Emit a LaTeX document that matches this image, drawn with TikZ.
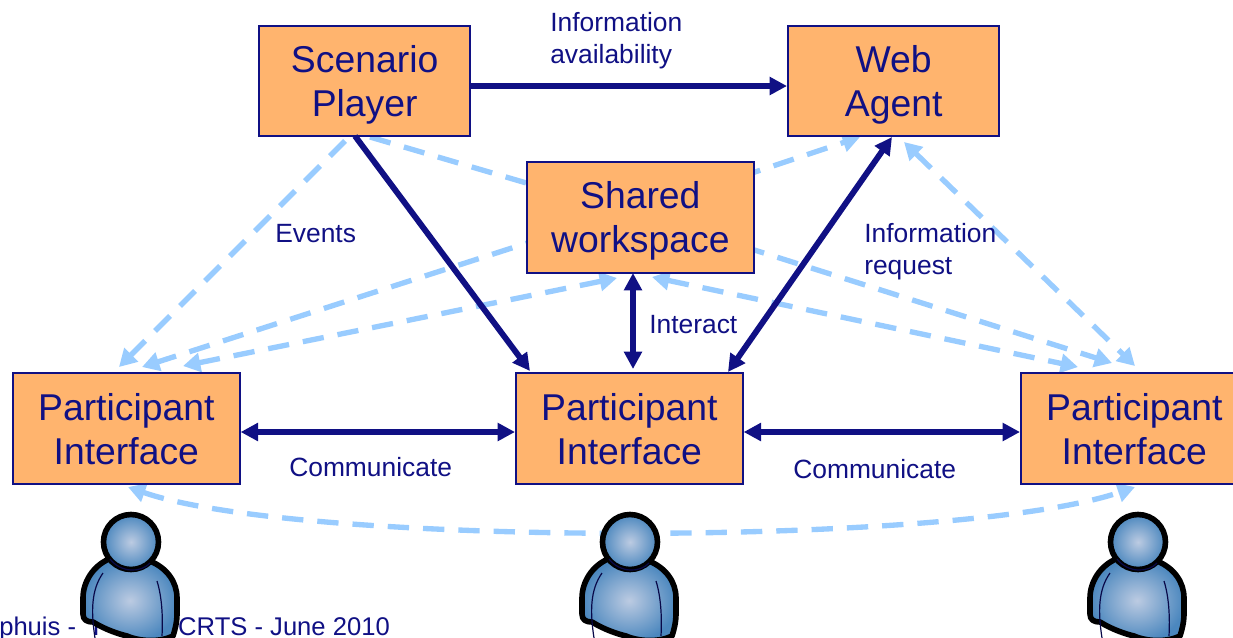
\documentclass[tikz,border=0pt]{standalone}
\usepackage{fontspec}
\setmainfont{Liberation Sans}
\usetikzlibrary{arrows.meta}
\definecolor{navy}{RGB}{16,16,132}
\definecolor{boxfill}{RGB}{255,180,110}
\definecolor{lightb}{RGB}{153,204,255}
\definecolor{skin}{RGB}{75,135,190}
\definecolor{skinc}{RGB}{188,203,226}
\tikzset{
  x=0.75pt,y=-0.75pt,
  box/.style={draw=navy,fill=boxfill,line width=1.5pt,inner sep=0pt,align=center,font=\fontsize{28}{33}\selectfont,text=navy,anchor=north west},
  lab/.style={text=navy,font=\fontsize{19.8}{24}\selectfont,align=left,inner sep=0pt,anchor=north west},
  solidarrow/.style={draw=navy,line width=4.4pt,-{Triangle[length=13pt,width=13pt]}},
  solidboth/.style={draw=navy,line width=4.4pt,{Triangle[length=13pt,width=13pt]}-{Triangle[length=13pt,width=13pt]}},
  dasharrow/.style={draw=lightb,line width=4pt,dash pattern=on 16pt off 10.5pt,-{Triangle[length=13pt,width=14pt]}},
  dashplain/.style={draw=lightb,line width=4pt,dash pattern=on 16pt off 10.5pt},
  dashboth/.style={draw=lightb,line width=4pt,dash pattern=on 16pt off 10.5pt,{Triangle[length=13pt,width=14pt]}-{Triangle[length=13pt,width=14pt]}},
  personline/.style={draw=black,line width=4.2pt,line join=round},
  personinner/.style={draw=navy!55!black,line width=0.9pt}
}
\newcommand{\person}[2]{%
  \begin{scope}[shift={(#1,#2)}]
    \path[personline,inner color=skinc,outer color=skin]
      (-22,17) .. controls (-38,24) and (-48,40) .. (-48,56)
      -- (-48,72) .. controls (-48,78) and (-44,80) .. (-38,80)
      .. controls (-25,88) and (-12,92) .. (-4,94)
      .. controls (10,100) and (30,100) .. (42,94)
      .. controls (44,88) and (46,80) .. (46,72)
      -- (46,56) .. controls (46,40) and (36,26) .. (19,19)
      -- cycle;
    \path[personline,inner color=skinc,outer color=skin] (0,0) circle[radius=27.5];
    \draw[personinner] (-21,17) .. controls (-10,31) and (10,31) .. (19,21);
    \draw[personinner] (-28,31) .. controls (-40,48) and (-40,70) .. (-36,96);
    \draw[personinner] (26,39) .. controls (31,55) and (32,75) .. (31,94);
  \end{scope}}
\newcommand{\liftS}{\rule{0pt}{26.5pt}}
\newcommand{\liftW}{\rule{0pt}{25.5pt}}
\newcommand{\liftP}{\rule{0pt}{22pt}}
\begin{document}
\begin{tikzpicture}
\useasboundingbox (0,0) rectangle (1233,637);
\begin{scope}
\clip (0,0) rectangle (1233,637);

% end points of the connectors
\coordinate (s1) at (370,116);
\coordinate (p1a) at (119,367);
\coordinate (s2) at (370,137);
\coordinate (shl) at (540,187);
\coordinate (shr) at (740,177);
\coordinate (w1) at (860,137);
\coordinate (sh1) at (546,237);
\coordinate (p1b) at (142,367);
\coordinate (p1c) at (183,366);
\coordinate (sh2) at (617,278);
\coordinate (sh3) at (710,236);
\coordinate (p3a) at (1112,363);
\coordinate (sh4) at (652,277);
\coordinate (p3b) at (1078,367);
\coordinate (w2) at (904,142);
\coordinate (p3c) at (1135,366);
\coordinate (arcl) at (128,487);
\coordinate (arcr) at (1135,487);

% light dashed connectors
\draw[dasharrow] (s1) -- (p1a);
\draw[dashplain] (s2) -- (shl);
\draw[dasharrow] (shr) -- (w1);
\draw[dasharrow] (sh1) -- (p1b);
\draw[dashboth] (p1c) -- (sh2);
\draw[dasharrow] (sh3) -- (p3a);
\draw[dashboth] (sh4) -- (p3b);
\draw[dashboth] (w2) -- (p3c);
\draw[dashboth] (arcl) .. controls (300,547) and (960,547) .. (arcr);

% boxes
\node[box,minimum width=158.5pt,minimum height=83pt] (sp) at (258,24.5) {\liftS Scenario\\Player};
\node[box,minimum width=158.5pt,minimum height=83pt] (wa) at (787,24.5) {\liftS Web\\Agent};
\node[box,minimum width=170pt,minimum height=83pt] (sw) at (526,161) {\liftW Shared\\workspace};
\node[box,minimum width=170pt,minimum height=83pt] (pa) at (12,372) {\liftP Participant\\Interface};
\node[box,minimum width=170pt,minimum height=83pt] (pb) at (515,372) {\liftP Participant\\Interface};
\node[box,minimum width=170pt,minimum height=83pt] (pc) at (1020,372) {\liftP Participant\\Interface};

% solid connectors
\coordinate (sa) at (355,136);
\coordinate (sb) at (530,371);
\coordinate (wb) at (892,137);
\coordinate (mb) at (728,372);
\coordinate (swb) at (633,273);
\coordinate (mt) at (633,369);
\draw[solidarrow] (sp.east |- 0,86) -- (wa.west |- 0,86);
\draw[solidarrow] (sa) -- (sb);
\draw[solidboth] (wb) -- (mb);
\draw[solidboth] (swb) -- (mt);
\draw[solidboth] (pa.east |- 0,432) -- (pb.west |- 0,432);
\draw[solidboth] (pb.east |- 0,432) -- (pc.west |- 0,432);

% labels
\node[lab] (l1) at (550,12) {Information\\availability};
\node[lab] (l2) at (275,224) {Events};
\node[lab] (l3) at (864,223) {Information\\request};
\node[lab] (l4) at (649,315) {Interact};
\node[lab] (l5) at (289,457) {Communicate};
\node[lab] (l6) at (793,459) {Communicate};
\node[lab,font=\fontsize{19.2}{22}\selectfont] (ft) at (-1,617) {phuis -\hspace{0.48em}T\hspace{2.9em}CRTS - June 2010};

% people
\person{131}{542}
\person{630}{542}
\person{1138}{542}
\end{scope}
\end{tikzpicture}
\end{document}
